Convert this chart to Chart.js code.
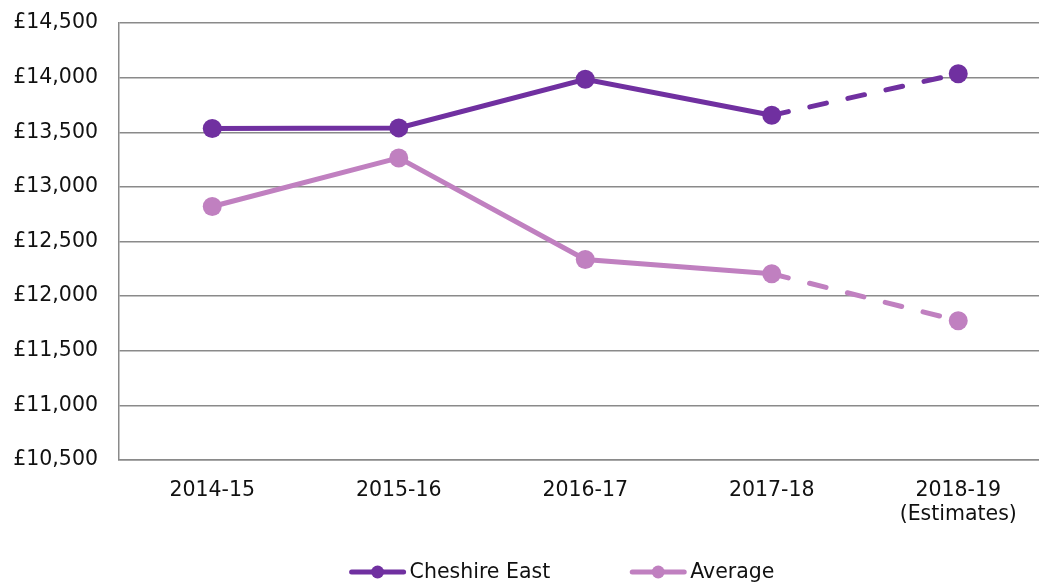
<!DOCTYPE html>
<html>
<head>
<meta charset="utf-8">
<script src="https://cdn.jsdelivr.net/npm/chart.js@4"></script>
<style>
  html, body { margin: 0; padding: 0; background: #fff; overflow: hidden; }
  #wrap { width: 1061px; height: 583px; position: relative; }
</style>
</head>
<body>
<div id="wrap"><canvas id="spendChart"></canvas></div>
<script>
// valores
const years = ['2014-15', '2015-16', '2016-17', '2017-18', ['2018-19', '(Estimates)']];
const cheshireEast = [13535, 13540, 13985, 13655, 14035];
const average = [12820, 13265, 12335, 12205, 11775];
const seriesNames = ['Cheshire East', 'Average'];
const seriesColors = ['#7030a0', '#c080c0'];
const estimateFrom = 3; // el tramo desde 2017-18 es estimado (discontinuo)

const FONT = 'DejaVu Sans, Verdana, sans-serif';

const dashedEstimate = (ctx) => ctx.p0DataIndex >= estimateFrom ? [17, 22] : undefined;

const makeSeries = (label, data, color) => ({
  label,
  data,
  borderColor: color,
  backgroundColor: color,
  borderWidth: 5,
  borderCapStyle: 'round',
  pointRadius: 9.5,
  pointHoverRadius: 9.5,
  pointBorderWidth: 0,
  tension: 0,
  segment: { borderDash: dashedEstimate },
});

// leyenda propia: linea con punto y texto, como en Excel
const legendPlugin = {
  id: 'lineLegend',
  afterDraw(chart) {
    const ctx = chart.ctx;
    const y = 572;
    const gap = 80;
    ctx.save();
    ctx.font = '20.5px ' + FONT;
    const items = chart.data.datasets.map((ds) => ({
      ds,
      w: 60 + ctx.measureText(ds.label).width,
    }));
    const total = items.reduce((s, it) => s + it.w, 0) + gap * (items.length - 1);
    let x = 562 - total / 2;
    items.forEach(({ ds, w }) => {
      ctx.strokeStyle = ds.borderColor;
      ctx.lineWidth = 5;
      ctx.lineCap = 'round';
      ctx.beginPath();
      ctx.moveTo(x + 2, y);
      ctx.lineTo(x + 54, y);
      ctx.stroke();
      ctx.fillStyle = ds.borderColor;
      ctx.beginPath();
      ctx.arc(x + 28, y, 6.5, 0, Math.PI * 2);
      ctx.fill();
      ctx.fillStyle = '#111';
      ctx.textBaseline = 'middle';
      ctx.textAlign = 'left';
      ctx.fillText(ds.label, x + 60, y + 1);
      x += w + gap;
    });
    ctx.restore();
  },
};

new Chart(document.getElementById('spendChart'), {
  type: 'line',
  data: {
    labels: years,
    datasets: [
      makeSeries(seriesNames[0], cheshireEast, seriesColors[0]),
      makeSeries(seriesNames[1], average, seriesColors[1]),
    ],
  },
  options: {
    responsive: true,
    maintainAspectRatio: false,
    animation: false,
    layout: { padding: { top: 23, right: 0, bottom: 40, left: 0 } },
    plugins: {
      legend: { display: false },
      tooltip: { enabled: false },
    },
    scales: {
      x: {
        offset: true,
        grid: { display: false, drawTicks: false },
        border: { display: true, color: '#8a8a8a', width: 1.5 },
        ticks: {
          color: '#111',
          font: { family: FONT, size: 20.5 },
          padding: 18,
          maxRotation: 0,
          autoSkip: false,
        },
        afterFit: (scale) => {
          scale.height = 83;
          scale.paddingLeft = 0;
          scale.paddingRight = 0;
        },
      },
      y: {
        min: 10500,
        max: 14500,
        grid: { color: '#8a8a8a', lineWidth: 1.5, drawTicks: false },
        border: { display: true, color: '#8a8a8a', width: 1.5 },
        ticks: {
          stepSize: 500,
          color: '#111',
          font: { family: FONT, size: 20.5 },
          padding: 21,
          callback: (v) => '£' + v.toLocaleString('en-GB'),
        },
        afterFit: (scale) => {
          scale.width = 119;
          scale.paddingTop = 0;
          scale.paddingBottom = 0;
        },
      },
    },
  },
  plugins: [legendPlugin],
});
</script>
</body>
</html>
